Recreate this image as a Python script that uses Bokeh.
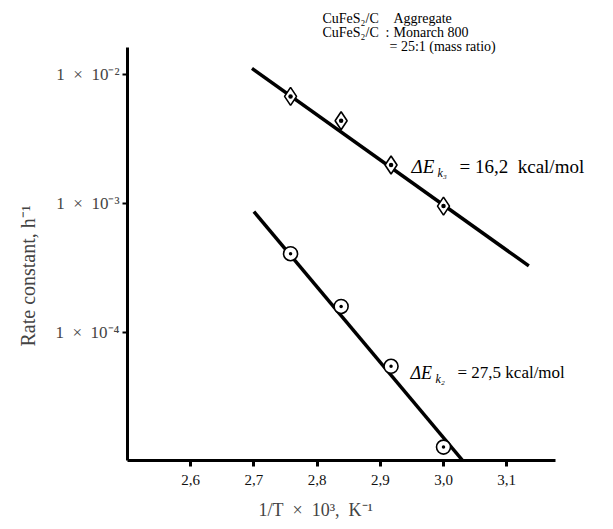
from bokeh.plotting import figure
from bokeh.models import Range1d, FixedTicker, CustomJSTickFormatter, Label, Title
from bokeh.embed import file_html
from bokeh.resources import INLINE

# ---- data ----
inv_T = [2.758, 2.838, 2.917, 3.00]              # 1/T x 10^3, K^-1
k_upper = [6.8e-3, 4.4e-3, 2.0e-3, 9.6e-4]      # diamonds
k_lower = [4.1e-4, 1.6e-4, 5.5e-5, 1.3e-5]      # circles
fit_upper_x = [2.697, 3.135]
fit_upper_y = [1.12e-2, 3.3e-4]
fit_lower_x = [2.70, 3.032]
fit_lower_y = [8.7e-4, 1.0e-5]
x_ticks = [2.6, 2.7, 2.8, 2.9, 3.0, 3.1]
y_ticks = [1e-4, 1e-3, 1e-2]

FONT = "Liberation Serif"
NB = "\u00a0"

X0, X1 = 2.5, 2.5 + 486 / 632
Y0L = -4.99
Y1L = Y0L + 460 / 129

p = figure(width=613, height=529, x_range=Range1d(X0, X1),
           y_range=Range1d(10 ** Y0L, 10 ** Y1L), y_axis_type="log",
           output_backend="svg", toolbar_location=None,
           min_border_left=127, min_border_right=0, min_border_top=0,
           min_border_bottom=69)
p.outline_line_color = None
p.grid.visible = False
p.background_fill_color = "white"
p.border_fill_color = "white"


def X(px):
    return X0 + (px - 127) / 632


def Y(py):
    return 10 ** (Y0L + (460 - py) / 129)


# axes
xa = p.xaxis[0]
xa.bounds = (X0, 3.178)
xa.ticker = FixedTicker(ticks=x_ticks, minor_ticks=[])
xa.formatter = CustomJSTickFormatter(code="return tick.toFixed(1).replace('.', ',');")
xa.axis_line_width = 3
xa.axis_line_color = "black"
xa.major_tick_line_width = 3
xa.major_tick_out = 6
xa.major_tick_in = 0
xa.minor_tick_line_color = None
xa.major_label_standoff = 8
xa.major_label_text_font = FONT
xa.major_label_text_font_size = "15px"
xa.major_label_text_color = "#111111"

ya = p.yaxis[0]
ya.bounds = (10 ** Y0L, 10 ** -1.79)
ya.ticker = FixedTicker(ticks=y_ticks, minor_ticks=[])
ya.formatter = CustomJSTickFormatter(code="""
const sup = {'-':'\u207b','0':'\u2070','1':'\u00b9','2':'\u00b2','3':'\u00b3','4':'\u2074','5':'\u2075','6':'\u2076','7':'\u2077','8':'\u2078','9':'\u2079'};
const e = String(Math.round(Math.log10(tick)));
let s = '';
for (const c of e) { s += sup[c]; }
return '1\u00a0\u00a0\u00d7\u00a0\u00a010' + s;
""")
ya.axis_line_width = 3
ya.axis_line_color = "black"
ya.major_tick_line_width = 2
ya.major_tick_out = 5
ya.major_tick_in = 0
ya.minor_tick_line_color = None
ya.major_label_standoff = 3
ya.major_label_text_font = FONT
ya.major_label_text_font_size = "17px"

# axis titles as side titles (so they can sit off-centre like the reference)
p.add_layout(Title(text="1/T" + NB + NB + "×" + NB + NB + "10³," + NB + NB + "K⁻¹",
                   align="left", offset=131, standoff=20, text_font=FONT,
                   text_font_size="18px", text_font_style="normal"), "below")
p.add_layout(Title(text="Rate constant, h⁻¹", align="left", offset=114,
                   standoff=28, text_font=FONT, text_font_size="20px",
                   text_font_style="normal"), "left")

# fit lines
p.line(fit_upper_x, fit_upper_y, line_width=3.5, line_color="black")
p.line(fit_lower_x, fit_lower_y, line_width=3.5, line_color="black")

# points
p.scatter(inv_T, k_upper, marker="diamond_dot", size=18, fill_color="white",
          line_color="black", line_width=1.6)
p.scatter(inv_T, k_lower, marker="circle_dot", size=14, fill_color="white",
          line_color="black", line_width=1.6)


def lab(text, px, py, size="14px", style="normal", align="left"):
    p.add_layout(Label(x=X(px), y=Y(py), text=text, text_font=FONT,
                       text_font_size=size, text_font_style=style,
                       text_baseline="middle", text_align=align,
                       text_color="black"))


# header
lab("CuFeS₂/C", 322, 18)
lab("Aggregate", 393, 18)
lab("CuFeS₂/C", 322, 32)
lab(":", 385, 32)
lab("Monarch 800", 393, 32)
lab("= 25:1 (mass ratio)", 389, 46)

# activation energies
lab("ΔE", 411, 166, size="19px", style="italic")
lab("k₃", 437, 172, size="12px", style="italic")
lab("=" + NB + "16,2" + NB + NB + "kcal/mol", 459, 166, size="19px")

lab("ΔE", 410, 372, size="18px", style="italic")
lab("k₂", 435, 378, size="12px", style="italic")
lab("= 27,5 kcal/mol", 457, 372, size="17px")

open("out.html", "w").write(file_html(p, INLINE))
